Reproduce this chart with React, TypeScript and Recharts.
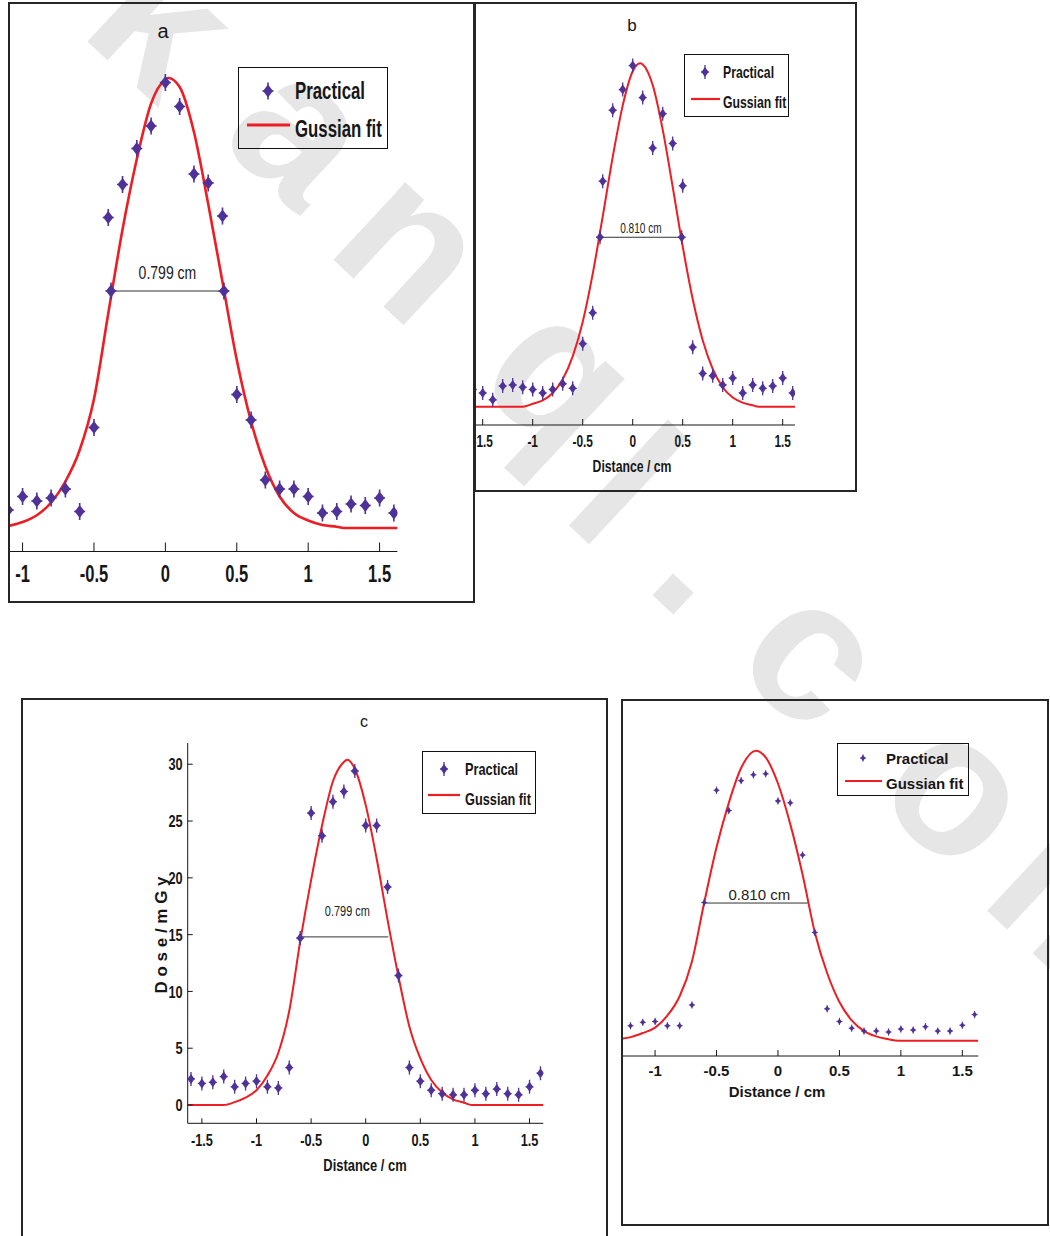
import React from 'react';
import { ComposedChart, Line, Scatter, XAxis, YAxis } from 'recharts';

const SANS = '"Liberation Sans", Arial, Helvetica, sans-serif';
const PURPLE = '#4f3298';
const RED = '#ee1d23';
const INK = '#161616';

// ---- panel a ----
const distanceA = [-1.1, -1.0, -0.9, -0.8, -0.7, -0.6, -0.5, -0.4, -0.3, -0.2, -0.1, 0, 0.1, 0.2, 0.3, 0.4, 0.5, 0.6, 0.7, 0.8, 0.9, 1.0, 1.1, 1.2, 1.3, 1.4, 1.5, 1.6];
const practicalA = [1.2, 2.1, 1.8, 2.0, 2.6, 1.1, 6.7, 20.7, 22.9, 25.3, 26.8, 29.7, 28.1, 23.6, 23.0, 20.8, 8.9, 7.2, 3.2, 2.6, 2.6, 2.1, 1.0, 1.1, 1.6, 1.5, 2.0, 1.0];
const fitDistanceA = [-1.09, -1.0, -0.9, -0.8, -0.7, -0.6, -0.5, -0.4, -0.3, -0.2, -0.1, 0, 0.02, 0.1, 0.2, 0.3, 0.4, 0.5, 0.6, 0.7, 0.8, 0.9, 1.0, 1.1, 1.2, 1.25, 1.63];
const fitA = [0.15, 0.4, 0.85, 1.7, 3.1, 5.2, 8.6, 14.3, 19.9, 24.6, 28.3, 29.9, 30.0, 29.4, 26.4, 21.6, 16.4, 11.2, 7.1, 4.1, 2.1, 1.0, 0.5, 0.2, 0.08, 0, 0];
const fwhmDistanceA = [-0.381, 0.41];
const fwhmLevelA = [15.8, 15.8];
const ticksA = [-1, -0.5, 0, 0.5, 1, 1.5];

// ---- panel b ----
const distanceB = [-1.6, -1.5, -1.4, -1.3, -1.2, -1.1, -1.0, -0.9, -0.8, -0.7, -0.6, -0.5, -0.4, -0.3, -0.2, -0.1, 0, 0.1, 0.2, 0.3, 0.4, 0.5, 0.6, 0.7, 0.8, 0.9, 1.0, 1.1, 1.2, 1.3, 1.4, 1.5, 1.6];
const practicalB = [1.5, 1.2, 0.6, 1.8, 1.9, 1.7, 1.5, 1.2, 1.5, 2.0, 1.6, 5.5, 8.2, 19.7, 25.9, 27.7, 29.8, 27.0, 22.6, 25.6, 23.0, 19.3, 5.2, 2.9, 2.7, 1.9, 2.5, 1.2, 1.9, 1.6, 1.8, 2.5, 1.2];
const fitDistanceB = [-1.57, -1.1, -1.0, -0.9, -0.8, -0.7, -0.6, -0.5, -0.4, -0.3, -0.2, -0.1, 0, 0.075, 0.1, 0.2, 0.3, 0.4, 0.5, 0.6, 0.7, 0.8, 0.9, 1.0, 1.1, 1.2, 1.26, 1.63];
const fitB = [0, 0, 0.25, 0.55, 1.2, 2.4, 4.4, 7.4, 11.6, 16.6, 21.8, 26.3, 29.3, 30.0, 29.9, 28.1, 24.2, 19.2, 14.0, 9.4, 5.8, 3.3, 1.7, 0.8, 0.35, 0.12, 0, 0];
const fwhmDistanceB = [-0.327, 0.49];
const fwhmLevelB = [14.8, 14.8];
const ticksB = [-1.5, -1, -0.5, 0, 0.5, 1, 1.5];

// ---- panel c ----
const distanceC = [-1.6, -1.5, -1.4, -1.3, -1.2, -1.1, -1.0, -0.9, -0.8, -0.7, -0.6, -0.5, -0.4, -0.3, -0.2, -0.1, 0, 0.1, 0.2, 0.3, 0.4, 0.5, 0.6, 0.7, 0.8, 0.9, 1.0, 1.1, 1.2, 1.3, 1.4, 1.5, 1.6];
const practicalC = [2.3, 1.9, 2.0, 2.5, 1.6, 1.9, 2.1, 1.6, 1.5, 3.3, 14.7, 25.7, 23.7, 26.7, 27.6, 29.4, 24.6, 24.6, 19.2, 11.4, 3.3, 2.1, 1.3, 1.0, 0.9, 0.9, 1.3, 1.0, 1.4, 1.0, 0.9, 1.6, 2.8];
const fitDistanceC = [-1.63, -1.3, -1.2, -1.1, -1.0, -0.9, -0.8, -0.7, -0.6, -0.5, -0.4, -0.3, -0.2, -0.17, -0.1, 0, 0.1, 0.2, 0.3, 0.4, 0.5, 0.6, 0.7, 0.8, 0.9, 0.97, 1.63];
const fitC = [0, 0, 0.25, 0.65, 1.3, 2.6, 4.6, 8.3, 14.4, 19.8, 24.6, 28.5, 30.2, 30.4, 29.6, 26.4, 21.7, 16.3, 11.3, 6.9, 4.1, 2.2, 1.1, 0.5, 0.2, 0, 0];
const fwhmDistanceC = [-0.6, 0.207];
const fwhmLevelC = [14.8, 14.8];
const ticksC = [-1.5, -1, -0.5, 0, 0.5, 1, 1.5];
const doseTicks = [0, 5, 10, 15, 20, 25, 30];

// ---- panel d ----
const distanceD = [-1.2, -1.1, -1.0, -0.9, -0.8, -0.7, -0.6, -0.5, -0.4, -0.3, -0.2, -0.1, 0, 0.1, 0.2, 0.3, 0.4, 0.5, 0.6, 0.7, 0.8, 0.9, 1.0, 1.1, 1.2, 1.3, 1.4, 1.5, 1.6];
const practicalD = [1.55, 1.9, 2.0, 1.55, 1.55, 3.7, 14.3, 25.9, 23.8, 26.9, 27.5, 27.6, 24.8, 24.6, 19.2, 11.2, 3.3, 2.0, 1.3, 1.0, 1.0, 0.9, 1.2, 1.1, 1.45, 1.0, 1.0, 1.6, 2.7];
const fitDistanceD = [-1.27, -1.2, -1.1, -1.0, -0.9, -0.8, -0.7, -0.6, -0.5, -0.4, -0.3, -0.18, -0.1, 0, 0.1, 0.2, 0.3, 0.4, 0.5, 0.6, 0.7, 0.8, 0.9, 0.98, 1.63];
const fitD = [0.2, 0.37, 0.8, 1.35, 2.6, 4.6, 8.2, 14.3, 20.0, 24.6, 28.2, 30.0, 29.3, 26.6, 22.4, 17.2, 11.2, 7.0, 4.0, 2.1, 1.0, 0.45, 0.15, 0, 0];
const fwhmDistanceD = [-0.594, 0.242];
const fwhmLevelD = [14.24, 14.24];
const ticksD = [-1, -0.5, 0, 0.5, 1, 1.5];

// watermark letters
const watermark = ['k', 'a', 'n', 'q', 'l', '.', 'c', 'o', 'm'];
const watermarkAt = [[118, 70], [258, 178], [368, 292], [518, 424], [579, 535], [663, 605], [770, 702], [915, 838], [1042, 962]];

type Pt = { x: number; y: number };
const zip = (xs: number[], ys: number[]): Pt[] => xs.map((x, i) => ({ x, y: ys[i] }));

function starShape(w: number, h: number, armX: number, armY: number, sw = 1.4) {
  return (props: any) => {
    const { cx, cy } = props;
    if (cx == null || cy == null || isNaN(cx) || isNaN(cy)) return <g />;
    return (
      <g>
        <line x1={cx} y1={cy - armY} x2={cx} y2={cy + armY} stroke={PURPLE} strokeWidth={sw} />
        <line x1={cx - armX} y1={cy} x2={cx + armX} y2={cy} stroke={PURPLE} strokeWidth={sw} />
        <path d={`M${cx} ${cy - h}L${cx + w} ${cy}L${cx} ${cy + h}L${cx - w} ${cy}Z`} fill={PURPLE} />
      </g>
    );
  };
}

type TickStyle = { size: number; k: number; dy: number; len: number };

const xTick = (t: TickStyle) => (props: any) => {
  const { x, y, payload } = props;
  return (
    <g>
      <line x1={x} y1={y} x2={x} y2={y - t.len} stroke={INK} strokeWidth={1} />
      <text
        transform={`translate(${x},${y + t.dy}) scale(${t.k},1)`}
        textAnchor="middle"
        dominantBaseline="central"
        fontFamily={SANS}
        fontSize={t.size}
        fontWeight={700}
        fill={INK}
      >
        {String(payload.value)}
      </text>
    </g>
  );
};

const yTick = (t: TickStyle) => (props: any) => {
  const { x, y, payload } = props;
  return (
    <g>
      <line x1={x} y1={y} x2={x + t.len} y2={y} stroke={INK} strokeWidth={1} />
      <text
        transform={`translate(${x - 5},${y}) scale(${t.k},1)`}
        textAnchor="end"
        dominantBaseline="central"
        fontFamily={SANS}
        fontSize={t.size}
        fontWeight={700}
        fill={INK}
      >
        {String(payload.value)}
      </text>
    </g>
  );
};

type WidthLabel = { text: string; at: Pt; lift: number; size: number; k: number };

const widthLabelShape = (l: WidthLabel) => (props: any) => (
  <text
    transform={`translate(${props.cx},${props.cy - l.lift}) scale(${l.k},1)`}
    textAnchor="middle"
    dominantBaseline="central"
    fontFamily={SANS}
    fontSize={l.size}
    fill="#222"
  >
    {l.text}
  </text>
);

type PanelCfg = {
  box: [number, number, number, number];
  margin: { top: number; right: number; bottom: number; left: number };
  xDomain: [number, number];
  yDomain: [number, number];
  xTicks: number[];
  yTicks?: number[];
  points: Pt[];
  fit: Pt[];
  fwhm: Pt[];
  fwhmMark: boolean;
  label: WidthLabel;
  marker: (p: any) => React.ReactElement;
  tick: TickStyle;
  fitWidth: number;
};

const mid = (xs: number[]) => (xs[0] + xs[1]) / 2;

const markerBig = starShape(5, 6.5, 5.5, 8.5, 1.6);
const markerMid = starShape(3.6, 5, 4, 7, 1.3);
const markerSmall = starShape(2.4, 3, 3, 3.6, 1);

const panels: PanelCfg[] = [
  {
    box: [8, 2, 467, 601],
    margin: { top: 16, right: 75.7, bottom: 9.5, left: 0 },
    xDomain: [-1.088, 1.624],
    yDomain: [-1.567, 33.87],
    xTicks: ticksA,
    points: zip(distanceA, practicalA),
    fit: zip(fitDistanceA, fitA),
    fwhm: zip(fwhmDistanceA, fwhmLevelA),
    fwhmMark: true,
    label: { text: '0.799 cm', at: { x: mid(fwhmDistanceA), y: fwhmLevelA[0] }, lift: 19, size: 18, k: 0.78 },
    marker: markerBig,
    tick: { size: 23, k: 0.72, dy: 22.5, len: 9 },
    fitWidth: 2.6,
  },
  {
    box: [474, 2, 383, 490],
    margin: { top: 16, right: 60, bottom: 25, left: 0 },
    xDomain: [-1.567, 1.623],
    yDomain: [-1.6, 33.78],
    xTicks: ticksB,
    points: zip(distanceB, practicalB),
    fit: zip(fitDistanceB, fitB),
    fwhm: zip(fwhmDistanceB, fwhmLevelB),
    fwhmMark: true,
    label: { text: '0.810 cm', at: { x: mid(fwhmDistanceB), y: fwhmLevelB[0] }, lift: 8.7, size: 14, k: 0.72 },
    marker: markerMid,
    tick: { size: 17, k: 0.7, dy: 16.7, len: 6 },
    fitWidth: 2,
  },
  {
    box: [21, 698, 587, 560],
    margin: { top: 43, right: 62.7, bottom: 92.7, left: 124.7 },
    xDomain: [-1.63, 1.626],
    yDomain: [-1.61, 31.87],
    xTicks: ticksC,
    yTicks: doseTicks,
    points: zip(distanceC, practicalC),
    fit: zip(fitDistanceC, fitC),
    fwhm: zip(fwhmDistanceC, fwhmLevelC),
    fwhmMark: false,
    label: { text: '0.799 cm', at: { x: -0.168, y: fwhmLevelC[0] }, lift: 26, size: 15, k: 0.73 },
    marker: markerMid,
    tick: { size: 17, k: 0.75, dy: 16.7, len: 5 },
    fitWidth: 2,
  },
  {
    box: [621, 699, 428, 527],
    margin: { top: 19, right: 68.7, bottom: 128, left: 0 },
    xDomain: [-1.261, 1.63],
    yDomain: [-1.58, 33.17],
    xTicks: ticksD,
    points: zip(distanceD, practicalD),
    fit: zip(fitDistanceD, fitD),
    fwhm: zip(fwhmDistanceD, fwhmLevelD),
    fwhmMark: false,
    label: { text: '0.810 cm', at: { x: -0.152, y: fwhmLevelD[0] }, lift: 8.7, size: 15, k: 1 },
    marker: markerSmall,
    tick: { size: 15, k: 1, dy: 14, len: 6 },
    fitWidth: 2,
  },
];

function Panel({ cfg }: { cfg: PanelCfg }) {
  const [left, top, width, height] = cfg.box;
  return (
    <div
      style={{
        position: 'absolute',
        left,
        top,
        width,
        height,
        border: '2px solid #262626',
        boxSizing: 'border-box',
        overflow: 'hidden',
      }}
    >
      <ComposedChart width={width - 4} height={height - 4} margin={cfg.margin}>
        <XAxis
          type="number"
          dataKey="x"
          domain={cfg.xDomain}
          allowDataOverflow
          ticks={cfg.xTicks}
          interval={0}
          tickSize={0}
          tickMargin={0}
          tickLine={false}
          axisLine={{ stroke: INK }}
          tick={xTick(cfg.tick)}
          height={40}
        />
        <YAxis
          type="number"
          dataKey="y"
          domain={cfg.yDomain}
          allowDataOverflow
          hide={!cfg.yTicks}
          ticks={cfg.yTicks}
          interval={0}
          tickSize={0}
          tickMargin={0}
          tickLine={false}
          axisLine={{ stroke: INK }}
          tick={yTick({ ...cfg.tick, len: 5 })}
          width={cfg.yTicks ? 40 : 0}
        />
        <Line
          data={cfg.fit}
          dataKey="y"
          type="monotone"
          stroke={RED}
          strokeWidth={cfg.fitWidth}
          dot={false}
          activeDot={false}
          isAnimationActive={false}
        />
        <Line
          data={cfg.fwhm}
          dataKey="y"
          type="linear"
          stroke="#333"
          strokeWidth={1}
          dot={cfg.fwhmMark ? cfg.marker : false}
          activeDot={false}
          isAnimationActive={false}
        />
        <Scatter data={cfg.points} dataKey="y" shape={cfg.marker} isAnimationActive={false} />
        <Scatter data={[cfg.label.at]} dataKey="y" shape={widthLabelShape(cfg.label)} isAnimationActive={false} />
      </ComposedChart>
    </div>
  );
}

type TxtProps = {
  x: number;
  y: number;
  children: React.ReactNode;
  size: number;
  bold?: boolean;
  k?: number;
  anchor?: 'start' | 'middle';
  rotate?: number;
};

function Txt({ x, y, children, size, bold, k = 1, anchor = 'middle', rotate = 0 }: TxtProps) {
  const tx = anchor === 'middle' ? '-50%' : '0';
  return (
    <div
      style={{
        position: 'absolute',
        left: x,
        top: y,
        fontFamily: SANS,
        fontSize: size,
        fontWeight: bold ? 700 : 400,
        lineHeight: 1,
        whiteSpace: 'nowrap',
        color: INK,
        transformOrigin: '0 0',
        transform: `rotate(${rotate}deg) scaleX(${k}) translate(${tx}, -50%)`,
      }}
    >
      {children}
    </div>
  );
}

type LegendCfg = {
  box: [number, number, number, number];
  rows: [number, number];
  markerX: number;
  line: [number, number, number];
  textX: number;
  size: number;
  k: number;
  marker: (p: any) => React.ReactElement;
  lineWidth: number;
};

const legends: LegendCfg[] = [
  { box: [238, 67, 150, 82], rows: [91, 129], markerX: 268, line: [247, 290, 125], textX: 295, size: 23, k: 0.73, marker: markerBig, lineWidth: 2.8 },
  { box: [684, 54, 105, 63], rows: [72, 102], markerX: 705, line: [691, 720, 99], textX: 723, size: 17, k: 0.72, marker: markerMid, lineWidth: 2.2 },
  { box: [422, 751, 114, 63], rows: [769, 799], markerX: 444, line: [428, 460, 795], textX: 465, size: 17, k: 0.75, marker: markerMid, lineWidth: 2.2 },
  { box: [837, 743, 132, 53], rows: [758, 783], markerX: 863, line: [845, 882, 781], textX: 886, size: 15, k: 1, marker: markerSmall, lineWidth: 2.2 },
];

export default function App() {
  return (
    <div style={{ position: 'absolute', left: 0, top: 0, width: 1050, height: 1236, overflow: 'hidden', background: '#fff' }}>
      <svg width={1050} height={1236} style={{ position: 'absolute', left: 0, top: 0 }}>
        {watermark.map((ch, i) => {
          const [x, y] = watermarkAt[i];
          return (
            <text
              key={i}
              x={x}
              y={y}
              transform={`rotate(43 ${x} ${y})`}
              textAnchor="middle"
              fontFamily={SANS}
              fontSize={200}
              fontWeight={700}
              fill="#e6e6e6"
            >
              {ch}
            </text>
          );
        })}
      </svg>

      {panels.map((cfg, i) => (
        <Panel key={i} cfg={cfg} />
      ))}

      {legends.map((l, i) => (
        <div
          key={i}
          style={{
            position: 'absolute',
            left: l.box[0],
            top: l.box[1],
            width: l.box[2],
            height: l.box[3],
            border: '1.5px solid #111',
            boxSizing: 'border-box',
          }}
        />
      ))}

      <svg width={1050} height={1236} style={{ position: 'absolute', left: 0, top: 0, pointerEvents: 'none' }}>
        {legends.map((l, i) => (
          <g key={i}>
            {l.marker({ cx: l.markerX, cy: l.rows[0] })}
            <line x1={l.line[0]} y1={l.line[2]} x2={l.line[1]} y2={l.line[2]} stroke={RED} strokeWidth={l.lineWidth} />
          </g>
        ))}
      </svg>

      {legends.map((l, i) => (
        <React.Fragment key={i}>
          <Txt x={l.textX} y={l.rows[0]} size={l.size} bold k={l.k} anchor="start">Practical</Txt>
          <Txt x={l.textX} y={l.rows[1]} size={l.size} bold k={l.k} anchor="start">Gussian fit</Txt>
        </React.Fragment>
      ))}

      <Txt x={163} y={31} size={20}>a</Txt>
      <Txt x={632} y={25} size={17}>b</Txt>
      <Txt x={364} y={722} size={16}>c</Txt>

      <Txt x={632} y={466} size={17} bold k={0.72}>Distance / cm</Txt>
      <Txt x={365} y={1165} size={17} bold k={0.76}>Distance / cm</Txt>
      <Txt x={777} y={1091} size={15} bold>Distance / cm</Txt>
      <Txt x={161} y={935} size={17} bold rotate={-90}>D o s e / m G y</Txt>
    </div>
  );
}
